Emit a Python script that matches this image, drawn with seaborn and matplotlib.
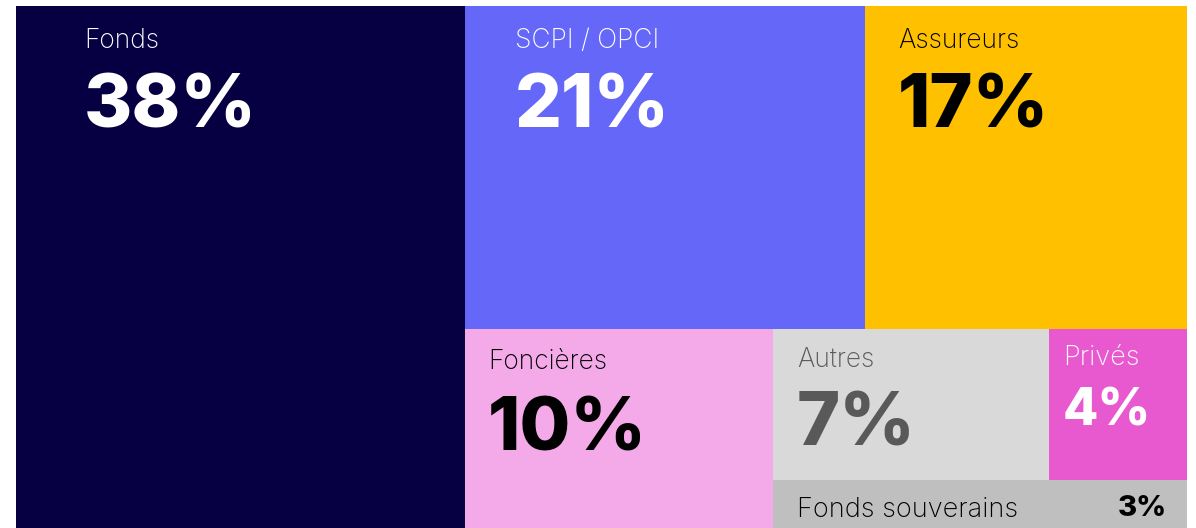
import matplotlib
matplotlib.use("Agg")
import matplotlib.pyplot as plt
from matplotlib.patches import Rectangle
import seaborn as sns

# data
categories = ["Fonds", "SCPI / OPCI", "Assureurs", "Foncières", "Autres", "Privés", "Fonds souverains"]
pct_labels = ["38%", "21%", "17%", "10%", "7%", "4%", "3%"]
# area shares (used for tile sizes)
shares = [38.3, 21.1, 17.0, 10.0, 6.8, 3.4, 3.25]
colors = ["#060042", "#6567F8", "#FFC000", "#F4A9E8", "#D9D9D9", "#E858CF", "#BFBFBF"]
text_colors = ["white", "white", "black", "black", "#595959", "white", "black"]

# nesting of the treemap: 'h' = side by side, 'v' = stacked
tree = ("h", [0, ("v", [("h", [1, 2]), ("h", [3, ("v", [("h", [4, 5]), 6])])])])


def total(node):
    if isinstance(node, int):
        return shares[node]
    return sum(total(n) for n in node[1])


def layout(node, x, y, w, h, out):
    if isinstance(node, int):
        out[node] = (x, y, w, h)
        return
    kind, kids = node
    s = total(node)
    for k in kids:
        f = total(k) / s
        if kind == "h":
            layout(k, x, y, w * f, h, out)
            x += w * f
        else:
            layout(k, x, y, w, h * f, out)
            y += h * f


rects = {}
layout(tree, 0, 0, 1, 1, rects)

# text style per tile: x pad, label baseline, number baseline (pixels), sizes
pad_x = [68, 50, 33, 23, 24, 14, 24]
lab_base = [42, 42, 42, 40, 38, 36, 37]
num_base = [122, 122, 122, 121, 116, 96, 36]
lab_size = [19, 19, 19, 19, 19, 19.5, 19.5]
num_size = [53, 53, 53, 53, 53, 37, 21]

sns.set_theme(style="white")
plt.rcParams["font.family"] = ["Inter", "DejaVu Sans"]

fig = plt.figure(figsize=(11.96, 5.28), dpi=100)
ax = fig.add_axes([16 / 1196, 0, 1171 / 1196, 522 / 528])
ax.set_xlim(0, 1)
ax.set_ylim(1, 0)
ax.axis("off")

for i, name in enumerate(categories):
    x, y, w, h = rects[i]
    ax.add_patch(Rectangle((x, y), w, h, facecolor=colors[i], edgecolor="none"))
    ax.annotate(name, (x, y), xytext=(pad_x[i], -lab_base[i]), textcoords="offset pixels",
                color=text_colors[i], fontsize=lab_size[i], fontweight="light",
                ha="left", va="baseline")
    if i == 6:
        ax.annotate(pct_labels[i], (x + w, y), xytext=(-20, -num_base[i]), textcoords="offset pixels",
                    color=text_colors[i], fontsize=num_size[i], fontweight="heavy",
                    ha="right", va="baseline")
    else:
        ax.annotate(pct_labels[i], (x, y), xytext=(pad_x[i], -num_base[i]), textcoords="offset pixels",
                    color=text_colors[i], fontsize=num_size[i], fontweight="heavy",
                    ha="left", va="baseline")

fig.savefig("out.png", dpi=100)
